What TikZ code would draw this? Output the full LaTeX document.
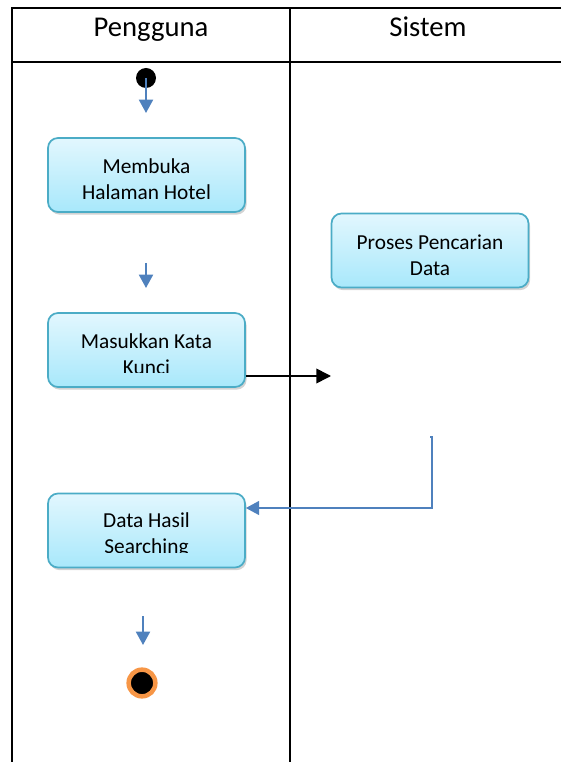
\documentclass[tikz,border=0pt]{standalone}
\usepackage{fontspec}
\setmainfont{Carlito}
\usetikzlibrary{positioning,arrows.meta,shadows}
\usepackage{xcolor}
\definecolor{boxline}{RGB}{75,172,198}
\definecolor{boxtop}{RGB}{226,247,254}
\definecolor{boxbot}{RGB}{168,232,251}
\definecolor{flowblue}{RGB}{79,129,189}
\definecolor{endorange}{RGB}{247,150,70}

\tikzset{
  activity/.style={draw=boxline,line width=1.3pt,rounded corners=7.5pt,
    top color=boxtop,bottom color=boxbot,minimum width=147.75pt,minimum height=55.5pt,
    drop shadow={opacity=0.35,shadow xshift=1.2pt,shadow yshift=-2pt}},
  acttext/.style={align=center,font=\fontsize{16}{19.5}\selectfont},
  lanetitle/.style={anchor=base,font=\fontsize{21.5}{26}\selectfont},
  lane/.style={line width=1.5pt},
  flow/.style={draw=flowblue,line width=1.5pt,-{Triangle[width=10.5pt,length=10pt]}}
}

\begin{document}
\begin{tikzpicture}[x=0.75pt,y=-0.75pt]
\useasboundingbox (0,0) rectangle (561,762);

    \draw[lane] (561,8) -- (12,8) -- (12,762);
    \draw[lane] (12,62) -- (561,62);
    \draw[lane] (290,8) -- (290,762);
    \node[lanetitle] (pengguna) at (151,37) {Pengguna};
    \node[lanetitle] (sistem) at (428,37) {Sistem};

    \node[circle,fill=black,minimum size=15pt,inner sep=0pt] (start) at (146,78) {};
    \coordinate (startend) at (146,113);
    \draw[flow] (start.center) -- (startend);

    \node[activity] (membuka) at (146.5,175) {};
    \node[acttext] (membukatext) at ([yshift=-3.2pt]membuka.center) {Membuka\\Halaman Hotel};

    \coordinate (arr2a) at (146,263);
    \coordinate (arr2b) at (146,288);
    \draw[flow] (arr2a) -- (arr2b);

    \node[activity] (proses) at (430,250.5) {};
    \node[acttext] (prosestext) at ([yshift=-3.2pt]proses.center) {Proses Pencarian\\Data};

    \node[activity] (kunci) at (146.5,350) {};
    \begin{scope}
    \clip (kunci.north west) rectangle ([yshift=11.5pt]kunci.south east);
    \node[acttext] (kuncitext) at ([yshift=-3.2pt]kunci.center) {Masukkan Kata\\Kunci};
    \end{scope}

    \coordinate (toproses) at (331,376);
    \draw[line width=1.2pt,-{Triangle[width=11pt,length=11pt]}] (toproses -| kunci.east) -- (toproses);

    \node[activity] (hasil) at (146.5,530.5) {};
    \begin{scope}
    \clip (hasil.north west) rectangle ([yshift=12pt]hasil.south east);
    \node[acttext] (hasiltext) at ([yshift=-3.2pt]hasil.center) {Data Hasil\\Searching};
    \end{scope}

    \coordinate (fromproses) at (432,437);
    \coordinate (backturn) at (432,508);
    \draw[flow,line width=1.2pt] ([xshift=-1.5pt]fromproses) -- (fromproses) -- (backturn) -- (backturn -| hasil.east);

    \coordinate (arr3a) at (143,616);
    \coordinate (arr3b) at (143,645);
    \draw[flow] (arr3a) -- (arr3b);

    \node[circle,fill=black,draw=endorange,line width=3.4pt,minimum size=20pt,inner sep=0pt] (finish) at (142,683) {};
\end{tikzpicture}
\end{document}
